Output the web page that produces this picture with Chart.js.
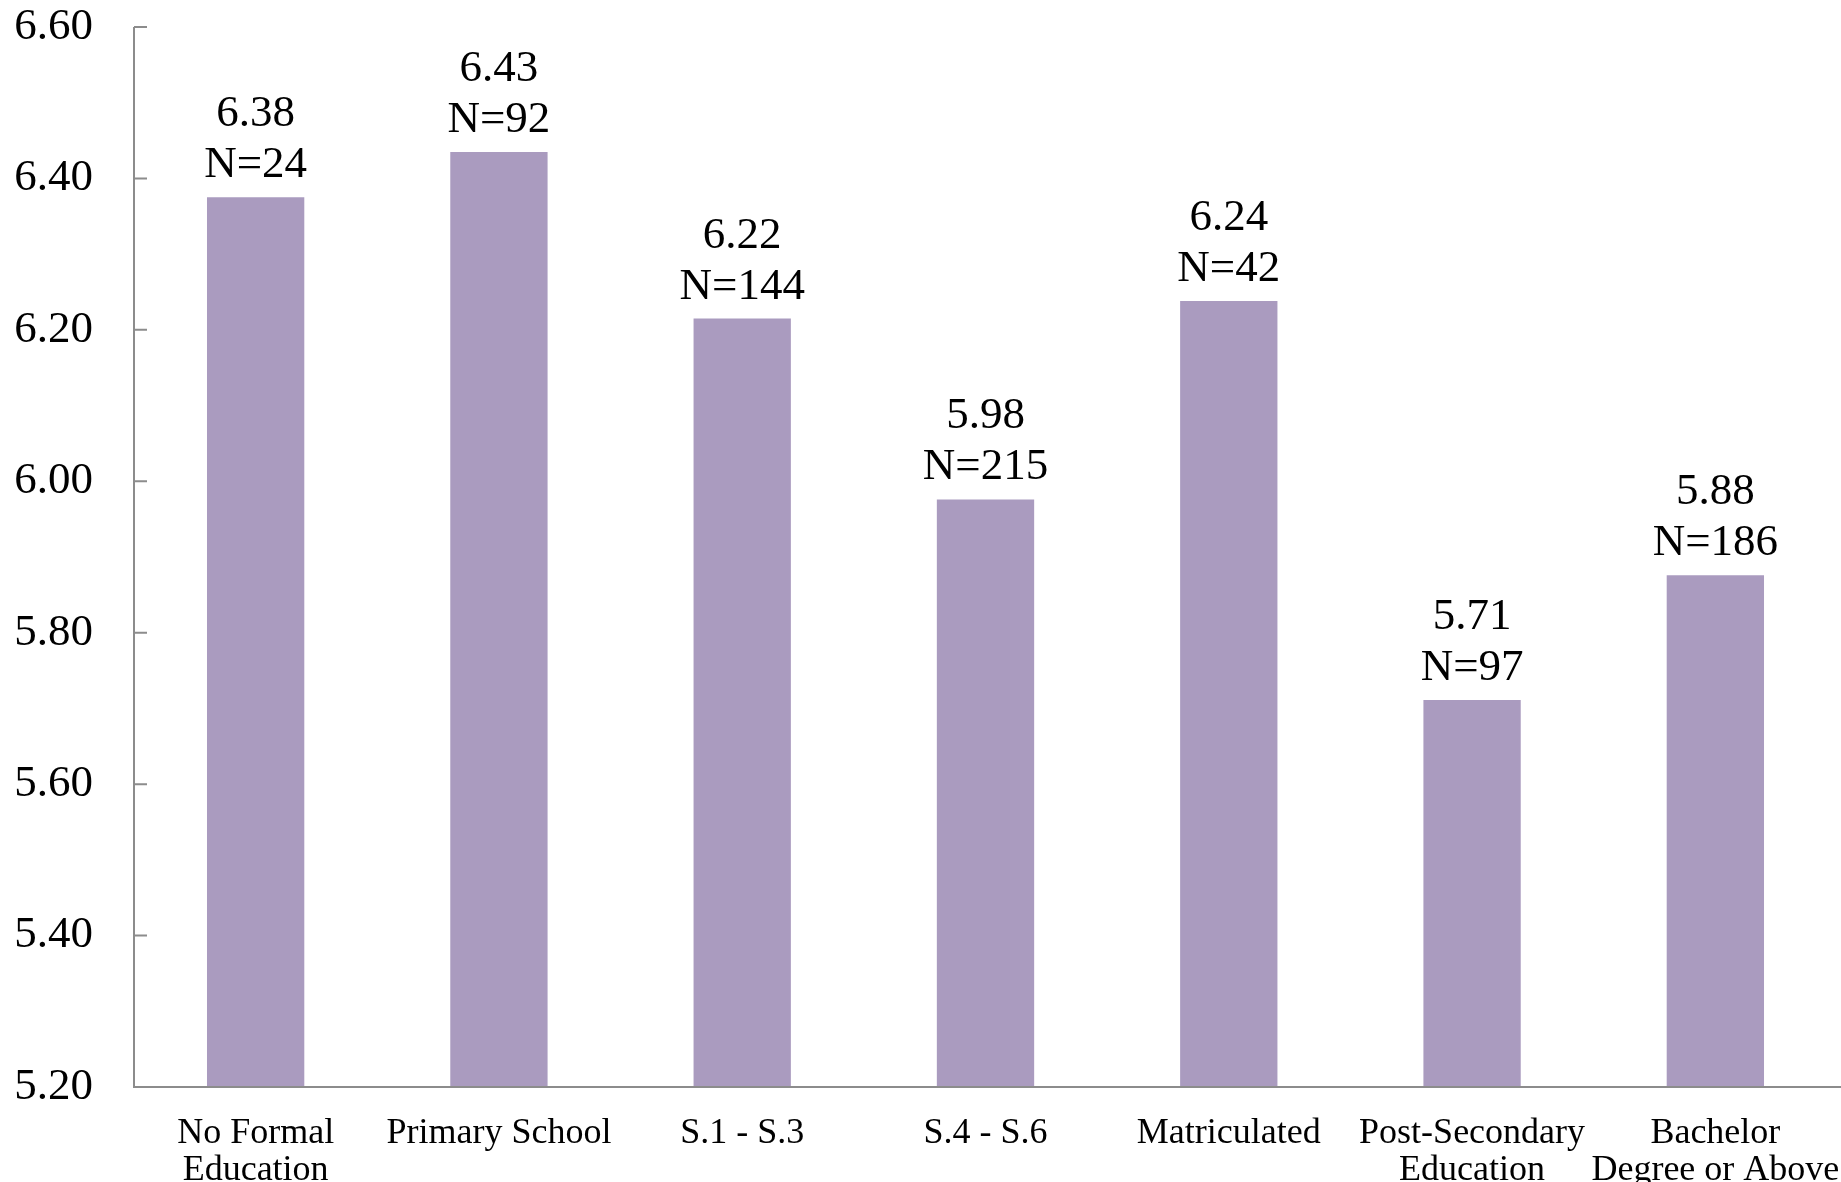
<!DOCTYPE html>
<html>
<head>
<meta charset="utf-8">
<title>Mean score by education level</title>
<script src="https://cdn.jsdelivr.net/npm/chart.js@4.4.1/dist/chart.umd.min.js"></script>
<style>
    html, body { margin: 0; padding: 0; background: #ffffff; }
    #chart { display: block; }
</style>
</head>
<body>
<canvas id="chart" width="1841" height="1182"></canvas>
<script>
const categories = [
    ['No Formal', 'Education'],
    'Primary School',
    'S.1 - S.3',
    'S.4 - S.6',
    'Matriculated',
    ['Post-Secondary', 'Education'],
    ['Bachelor', 'Degree or Above']
];
const meanScores = [6.375, 6.435, 6.215, 5.976, 6.238, 5.711, 5.876];
const meanLabels = ['6.38', '6.43', '6.22', '5.98', '6.24', '5.71', '5.88'];
const sampleSizes = [24, 92, 144, 215, 42, 97, 186];
const yTicks = [5.2, 5.4, 5.6, 5.8, 6.0, 6.2, 6.4, 6.6];

const fontFamily = '"Liberation Serif", "Times New Roman", serif';
const axisColor = '#8c8c8c';
const barColor = '#aa9bbf';

// axis lines and the short inward tick marks
const axisPlugin = {
    id: 'axisLines',
    afterDraw(chart) {
        const ctx = chart.ctx;
        const area = chart.chartArea;
        const y = chart.scales.y;
        ctx.save();
        ctx.strokeStyle = axisColor;
        ctx.lineWidth = 2;
        ctx.beginPath();
        ctx.moveTo(area.left, y.getPixelForValue(yTicks[yTicks.length - 1]));
        ctx.lineTo(area.left, area.bottom);
        ctx.lineTo(chart.width, area.bottom);
        yTicks.forEach(t => {
            const py = y.getPixelForValue(t);
            ctx.moveTo(area.left, py);
            ctx.lineTo(area.left + 13, py);
        });
        ctx.stroke();
        ctx.restore();
    }
};

// two-line value labels above each bar
const labelPlugin = {
    id: 'barLabels',
    afterDatasetsDraw(chart) {
        const ctx = chart.ctx;
        const bars = chart.getDatasetMeta(0).data;
        ctx.save();
        ctx.fillStyle = '#000000';
        ctx.font = '45px ' + fontFamily;
        ctx.textAlign = 'center';
        ctx.textBaseline = 'alphabetic';
        bars.forEach((bar, i) => {
            ctx.fillText('N=' + sampleSizes[i], bar.x, bar.y - 20);
            ctx.fillText(meanLabels[i], bar.x, bar.y - 71);
        });
        ctx.restore();
    }
};

new Chart(document.getElementById('chart'), {
    type: 'bar',
    data: {
        labels: categories,
        datasets: [{
            data: meanScores,
            backgroundColor: barColor,
            borderWidth: 0,
            categoryPercentage: 1,
            barPercentage: 0.4
        }]
    },
    options: {
        responsive: false,
        animation: false,
        layout: {
            padding: { top: 27, right: 4, left: 0, bottom: 0 }
        },
        plugins: {
            legend: { display: false },
            tooltip: { enabled: false }
        },
        scales: {
            x: {
                grid: { display: false, drawTicks: false },
                border: { display: false },
                ticks: {
                    color: '#000000',
                    padding: 28,
                    maxRotation: 0,
                    autoSkip: false,
                    font: { family: fontFamily, size: 36, lineHeight: 1.03 }
                },
                afterFit(scale) {
                    scale.height = 95;
                    scale.paddingLeft = 0;
                    scale.paddingRight = 0;
                }
            },
            y: {
                min: 5.2,
                max: 6.6,
                grid: { display: false, drawTicks: false },
                border: { display: false },
                afterBuildTicks(scale) {
                    scale.ticks = yTicks.map(v => ({ value: v }));
                },
                ticks: {
                    color: '#000000',
                    padding: 41,
                    font: { family: fontFamily, size: 45 },
                    callback: v => Number(v).toFixed(2)
                },
                afterFit(scale) {
                    scale.width = 134;
                    scale.paddingTop = 0;
                    scale.paddingBottom = 0;
                }
            }
        }
    },
    plugins: [axisPlugin, labelPlugin]
});
</script>
</body>
</html>
